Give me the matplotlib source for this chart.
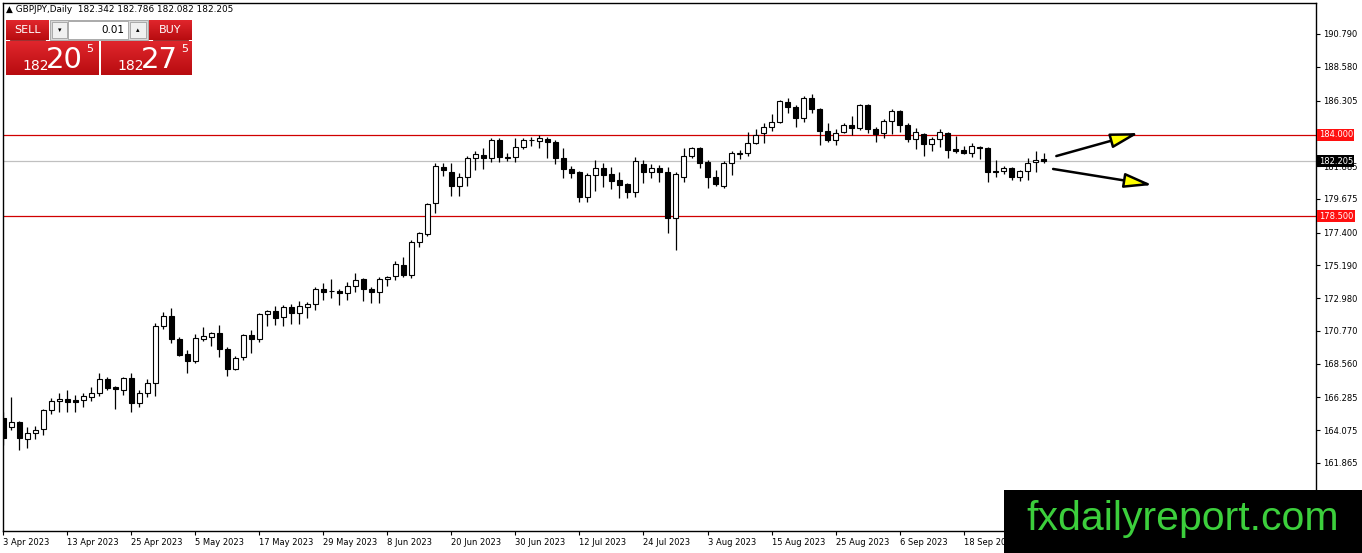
import matplotlib
matplotlib.use("Agg")
import matplotlib.pyplot as plt
import numpy as np
import pandas as pd
from matplotlib.patches import Rectangle
from matplotlib.colors import LinearSegmentedColormap

# daily GBPJPY candles, 3 Apr 2023 onwards
opens = [164.90, 164.29, 164.63, 163.48, 163.89, 164.16, 165.44, 166.04, 166.18, 166.11,
         166.11, 166.31, 166.58, 167.53, 166.99, 166.79, 167.60, 165.91, 166.58, 167.26,
         171.10, 171.78, 170.22, 169.21, 168.74, 170.22, 170.36, 170.63, 169.55, 168.20,
         169.01, 170.49, 170.22, 171.91, 172.11, 171.71, 172.38, 171.97, 172.38, 172.58,
         173.60, 173.43, 173.46, 173.33, 173.80, 174.27, 173.60, 173.39, 174.27, 174.47,
         175.21, 174.54, 176.77, 177.30, 179.39, 181.82, 181.48, 180.54, 181.15, 182.43,
         182.63, 182.43, 183.64, 182.46, 182.50, 183.17, 183.61, 183.58, 183.71, 183.51,
         182.43, 181.69, 181.48, 179.80, 181.28, 181.75, 181.35, 180.95, 180.68, 180.14,
         182.02, 181.48, 181.75, 181.48, 178.38, 181.15, 182.56, 183.10, 182.16, 181.15,
         180.54, 182.09, 182.73, 182.77, 183.44, 184.11, 184.52, 184.86, 186.21, 185.87,
         185.13, 186.47, 185.73, 184.25, 183.64, 184.18, 184.65, 184.45, 186.00, 184.38,
         184.11, 184.92, 185.60, 184.65, 183.71, 184.05, 183.37, 183.71, 184.11, 183.04,
         182.97, 182.77, 183.17, 183.10, 181.55, 181.55, 181.75, 181.15, 181.55, 182.16,
         182.342]
highs = [165.30, 166.31, 164.70, 164.29, 164.36, 165.50, 166.25, 166.58, 166.79, 166.45,
         166.58, 166.99, 167.93, 167.66, 167.05, 167.66, 167.93, 166.79, 167.53, 171.30,
         172.05, 172.31, 170.36, 169.48, 170.56, 171.03, 170.70, 171.17, 169.68, 169.08,
         170.56, 170.83, 171.97, 172.18, 172.45, 172.52, 172.58, 172.79, 172.72, 173.73,
         174.00, 174.27, 173.60, 174.07, 174.67, 174.34, 173.73, 174.41, 174.47, 175.48,
         175.75, 176.90, 177.44, 179.39, 182.09, 182.09, 182.09, 181.42, 182.56, 182.90,
         183.10, 183.78, 183.78, 182.77, 183.78, 183.78, 183.85, 183.98, 183.85, 183.64,
         183.10, 181.89, 181.55, 181.42, 182.29, 182.09, 181.82, 181.48, 180.74, 182.50,
         182.29, 182.02, 181.96, 181.82, 181.48, 183.10, 183.17, 183.17, 182.29, 181.62,
         182.23, 182.90, 182.97, 184.18, 184.38, 184.79, 185.40, 186.34, 186.47, 186.00,
         186.61, 186.74, 185.80, 184.79, 184.38, 184.79, 185.26, 186.07, 186.07, 184.52,
         185.06, 185.73, 185.67, 184.79, 184.45, 184.11, 183.85, 184.38, 184.18, 183.91,
         183.24, 183.44, 183.24, 183.17, 182.29, 181.89, 181.82, 181.62, 182.43, 182.90,
         182.786]
lows = [163.08, 164.09, 162.74, 162.87, 163.48, 163.75, 165.17, 165.30, 165.30, 165.30,
        165.64, 166.04, 166.38, 166.79, 165.50, 166.45, 165.30, 165.64, 166.31, 166.38,
        170.90, 169.95, 169.08, 167.93, 168.61, 170.09, 169.75, 169.01, 167.73, 168.13,
        168.81, 169.28, 170.02, 171.10, 171.17, 171.10, 171.24, 171.24, 171.64, 172.18,
        172.85, 172.99, 172.52, 172.85, 173.39, 172.79, 172.65, 172.65, 173.80, 174.20,
        174.41, 174.34, 176.43, 177.17, 178.72, 181.22, 179.87, 179.87, 180.54, 181.62,
        181.69, 182.16, 182.16, 182.23, 182.16, 183.03, 183.24, 183.10, 182.43, 182.02,
        181.08, 181.08, 179.46, 179.46, 180.20, 180.47, 180.34, 179.73, 179.73, 179.80,
        180.74, 181.08, 180.81, 177.37, 176.23, 180.81, 182.43, 181.75, 180.41, 180.54,
        180.41, 181.28, 182.36, 182.56, 183.37, 183.44, 184.25, 184.79, 185.46, 184.52,
        184.86, 185.46, 183.31, 183.51, 183.31, 184.11, 183.98, 184.32, 184.11, 183.51,
        183.78, 184.05, 184.18, 183.51, 183.03, 182.56, 182.90, 183.17, 182.43, 182.77,
        182.70, 182.50, 182.36, 180.81, 181.15, 181.35, 180.95, 180.88, 180.95, 181.48,
        182.082]
closes = [163.55, 164.63, 163.55, 163.89, 164.09, 165.44, 166.04, 166.18, 165.97, 165.97,
          166.38, 166.58, 167.53, 166.92, 166.85, 167.60, 165.91, 166.58, 167.26, 171.10,
          171.78, 170.22, 169.15, 168.74, 170.29, 170.43, 170.63, 169.55, 168.20, 168.94,
          170.49, 170.22, 171.91, 172.11, 171.64, 172.38, 171.97, 172.45, 172.58, 173.60,
          173.39, 173.46, 173.33, 173.80, 174.20, 173.60, 173.39, 174.27, 174.41, 175.28,
          174.54, 176.77, 177.37, 179.33, 181.89, 181.62, 180.54, 181.15, 182.43, 182.70,
          182.43, 183.64, 182.50, 182.50, 183.17, 183.64, 183.64, 183.78, 183.51, 182.43,
          181.69, 181.42, 179.80, 181.28, 181.75, 181.28, 180.88, 180.61, 180.14, 182.23,
          181.48, 181.75, 181.48, 178.38, 181.35, 182.56, 183.10, 182.09, 181.15, 180.68,
          182.09, 182.77, 182.77, 183.44, 183.98, 184.52, 184.86, 186.27, 185.87, 185.13,
          186.47, 185.73, 184.25, 183.64, 184.11, 184.65, 184.45, 186.00, 184.38, 184.05,
          184.92, 185.60, 184.65, 183.71, 184.18, 183.37, 183.71, 184.18, 182.97, 182.90,
          182.77, 183.24, 183.10, 181.48, 181.48, 181.75, 181.15, 181.55, 182.09, 182.29,
          182.205]

dates = pd.bdate_range("2023-04-03", periods=len(opens))
ytick_values = [161.865, 164.075, 166.285, 168.560, 170.770, 172.980, 175.190,
                177.400, 179.675, 181.885, 186.305, 188.580, 190.790]
levels = [184.000, 178.500]
last_price = 182.205
arrow_up = [(131.6, 182.56), (141.9, 184.11)]
arrow_down = [(131.2, 181.69), (143.6, 180.61)]

W, H = 1362, 553
fig = plt.figure(figsize=(W / 100, H / 100), dpi=100)
fig.patch.set_facecolor("white")
ax = fig.add_axes([3 / W, (H - 531) / H, 1313 / W, 528 / H])

x = np.arange(len(opens))
o = np.array(opens)
c = np.array(closes)
up = c >= o
ax.vlines(x, lows, highs, color="black", lw=0.9, zorder=2)
body_lo = np.minimum(o, c)
body_h = np.maximum(np.abs(c - o), 0.035)
ax.bar(x, body_h, bottom=body_lo, width=0.62,
       color=np.where(up, "white", "black"), edgecolor="black", linewidth=0.8, zorder=3)

for lv in levels:
    ax.axhline(lv, color="#d00000", lw=0.9, zorder=1)
ax.axhline(last_price, color="#c0c0c0", lw=0.9, zorder=1)

ax.set_xlim(-0.06, 164.06)
ax.set_ylim(157.28, 192.88)

ax.yaxis.tick_right()
ax.set_yticks(ytick_values)
ax.set_yticklabels([f"{v:.3f}" for v in ytick_values])
ax.tick_params(axis="y", direction="out", length=3, width=0.8, pad=2, labelsize=6)

xt = list(range(0, len(opens), 8))
ax.set_xticks(xt)
ax.set_xticklabels([f"{dates[i].day} {dates[i].strftime('%b %Y')}" for i in xt])
for lbl in ax.get_xticklabels():
    lbl.set_ha("left")
ax.tick_params(axis="x", direction="out", length=3, width=0.8, pad=2, labelsize=6)
for s in ax.spines.values():
    s.set_linewidth(1.0)

# price boxes on the right scale
for lv in levels:
    ax.annotate(f"{lv:.3f}", xy=(1.002, lv), xycoords=("axes fraction", "data"),
                ha="left", va="center", fontsize=6, color="white", zorder=10,
                bbox=dict(boxstyle="square,pad=0.18", fc="#ff1010", ec="none"))
ax.annotate(f"{last_price:.3f}", xy=(1.002, last_price), xycoords=("axes fraction", "data"),
            ha="left", va="center", fontsize=6, color="white", zorder=10,
            bbox=dict(boxstyle="square,pad=0.18", fc="black", ec="none"))

for a in (arrow_up, arrow_down):
    ax.annotate("", xy=a[1], xytext=a[0],
                arrowprops=dict(arrowstyle="-|>,head_length=1.7,head_width=0.45",
                                fc="#ffff00", ec="black", lw=1.8, shrinkA=0, shrinkB=0))

# overlay in pixel coordinates for panel and watermark
ov = fig.add_axes([0, 0, 1, 1], facecolor="none")
ov.set_xlim(0, W)
ov.set_ylim(H, 0)
ov.axis("off")

ov.text(6, 10, "\u25b2 GBPJPY,Daily  182.342 182.786 182.082 182.205",
        fontsize=6.4, va="center", ha="left", color="black")

grad = np.linspace(0, 1, 50).reshape(-1, 1)
reds = LinearSegmentedColormap.from_list("r", ["#e0262c", "#b80c10"])


def red_box(x0, y0, x1, y1):
    ov.imshow(grad, cmap=reds, extent=(x0, x1, y1, y0), aspect="auto", zorder=5)


red_box(6, 20, 49, 40)
red_box(149, 20, 192, 40)
red_box(6, 41, 99, 75)
red_box(101, 41, 192, 75)
ov.plot([10, 45], [39.5, 39.5], color="#8a0a0a", lw=0.6, zorder=6)
ov.plot([153, 188], [39.5, 39.5], color="#8a0a0a", lw=0.6, zorder=6)
ov.add_patch(Rectangle((50, 20), 98, 20, fc="#d8d8d8", ec="#a0a0a0", lw=0.6, zorder=5))
ov.add_patch(Rectangle((52, 22), 15, 16, fc="#f0f0f0", ec="#a0a0a0", lw=0.6, zorder=6))
ov.add_patch(Rectangle((68, 21), 60, 18, fc="white", ec="#a0a0a0", lw=0.6, zorder=6))
ov.add_patch(Rectangle((130, 22), 16, 16, fc="#f0f0f0", ec="#a0a0a0", lw=0.6, zorder=6))
ov.text(59.5, 30, "\u25be", fontsize=5, ha="center", va="center", zorder=7)
ov.text(138, 30, "\u25b4", fontsize=5, ha="center", va="center", zorder=7)
ov.text(124, 30, "0.01", fontsize=7.5, ha="right", va="center", zorder=7)
ov.text(27.5, 30, "SELL", fontsize=8, ha="center", va="center", color="white", zorder=7)
ov.text(170.5, 30, "BUY", fontsize=8, ha="center", va="center", color="white", zorder=7)
for x0, big in ((6, "20"), (101, "27")):
    ov.text(x0 + 16, 66, "182", fontsize=10, ha="left", va="center", color="white", zorder=7)
    ov.text(x0 + 40, 60, big, fontsize=21, ha="left", va="center", color="white", zorder=7)
    ov.text(x0 + 80, 49, "5", fontsize=8, ha="left", va="center", color="white", zorder=7)

ov.add_patch(Rectangle((1004, 490), 358, 63, fc="black", ec="none", zorder=8))
ov.text(1183, 519, "fxdailyreport.com", fontsize=29.5, family="Liberation Sans",
        color="#3ccf3c", ha="center", va="center", zorder=9)

fig.savefig("out.png", dpi=100)
